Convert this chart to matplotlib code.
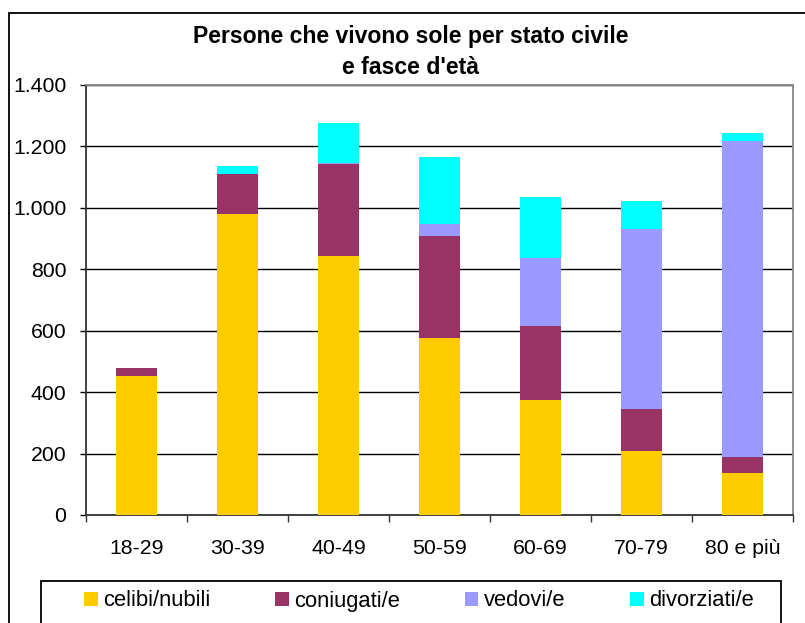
import numpy as np
import matplotlib
matplotlib.use('Agg')
import matplotlib.pyplot as plt
from matplotlib.patches import Rectangle

plt.rcParams['font.family'] = ['Liberation Sans', 'DejaVu Sans']

fasce = ['18-29', '30-39', '40-49', '50-59', '60-69', '70-79', '80 e più']
celibi = [453, 980, 843, 576, 374, 208, 137]
coniugati = [26, 130, 301, 332, 241, 137, 52]
vedovi = [0, 0, 3, 39, 223, 586, 1029]
divorziati = [0, 26, 129, 219, 197, 91, 26]
serie = ['celibi/nubili', 'coniugati/e', 'vedovi/e', 'divorziati/e']
colori = ['#FFCC00', '#993366', '#9999FF', '#00FFFF']
yticks = [0, 200, 400, 600, 800, 1000, 1200, 1400]
ylabels = ['0', '200', '400', '600', '800', '1.000', '1.200', '1.400']

W, H = 805, 623
fig = plt.figure(figsize=(W / 100, H / 100), dpi=100)
ax = fig.add_axes([86 / W, 1 - 515 / H, (793 - 86) / W, (515 - 85) / H])

x = np.arange(len(fasce))
base = np.zeros(len(fasce))
handles = []
for vals, col, lab in zip([celibi, coniugati, vedovi, divorziati], colori, serie):
    b = ax.bar(x, vals, width=0.415, bottom=base, color=col, label=lab, zorder=3)
    handles.append(b)
    base += np.array(vals)

ax.set_xlim(-0.5, len(fasce) - 0.5)
ax.set_ylim(0, 1400)
ax.set_yticks(yticks)
ax.set_yticklabels(ylabels, fontsize=15.3)
ax.yaxis.grid(True, color='black', linewidth=1, zorder=1)
ax.tick_params(axis='y', length=4.3, width=1, pad=10, colors='black')

ax.set_xticks(x)
ax.set_xticklabels(fasce, fontsize=15.3)
ax.set_xticks(np.arange(len(fasce) + 1) - 0.5, minor=True)
ax.tick_params(axis='x', which='major', length=0, pad=17)
ax.tick_params(axis='x', which='minor', length=5, width=1, color='#333333')

ax.spines['left'].set_color('#333333')
ax.spines['bottom'].set_color('#333333')
ax.spines['top'].set_color('#888888')
ax.spines['right'].set_color('#888888')
for s in ax.spines.values():
    s.set_linewidth(1.3)

fig.text(411 / W, 1 - 37 / H, 'Persone che vivono sole per stato civile',
         ha='center', va='center', fontsize=16.6, fontweight='bold')
fig.text(411 / W, 1 - 68 / H, "e fasce d'età",
         ha='center', va='center', fontsize=16.6, fontweight='bold')

# cornice esterna e riquadro legenda
fig.patches.append(Rectangle((9 / W, -0.1), 1.2, 1 - 13 / H + 0.1, transform=fig.transFigure,
                             fill=False, edgecolor='black', linewidth=1.3))
fig.patches.append(Rectangle((41 / W, -0.1), (781 - 41) / W, 1 - 581 / H + 0.1,
                             transform=fig.transFigure, fill=False, edgecolor='black',
                             linewidth=1.3))

fig.legend(handles=handles, labels=serie, loc='center', ncol=4,
           bbox_to_anchor=(419 / W, 1 - 601 / H), frameon=False, fontsize=15.8,
           handlelength=0.62, handleheight=0.62, handletextpad=0.25,
           columnspacing=2.95, borderpad=0)

fig.savefig('out.png', dpi=100)
